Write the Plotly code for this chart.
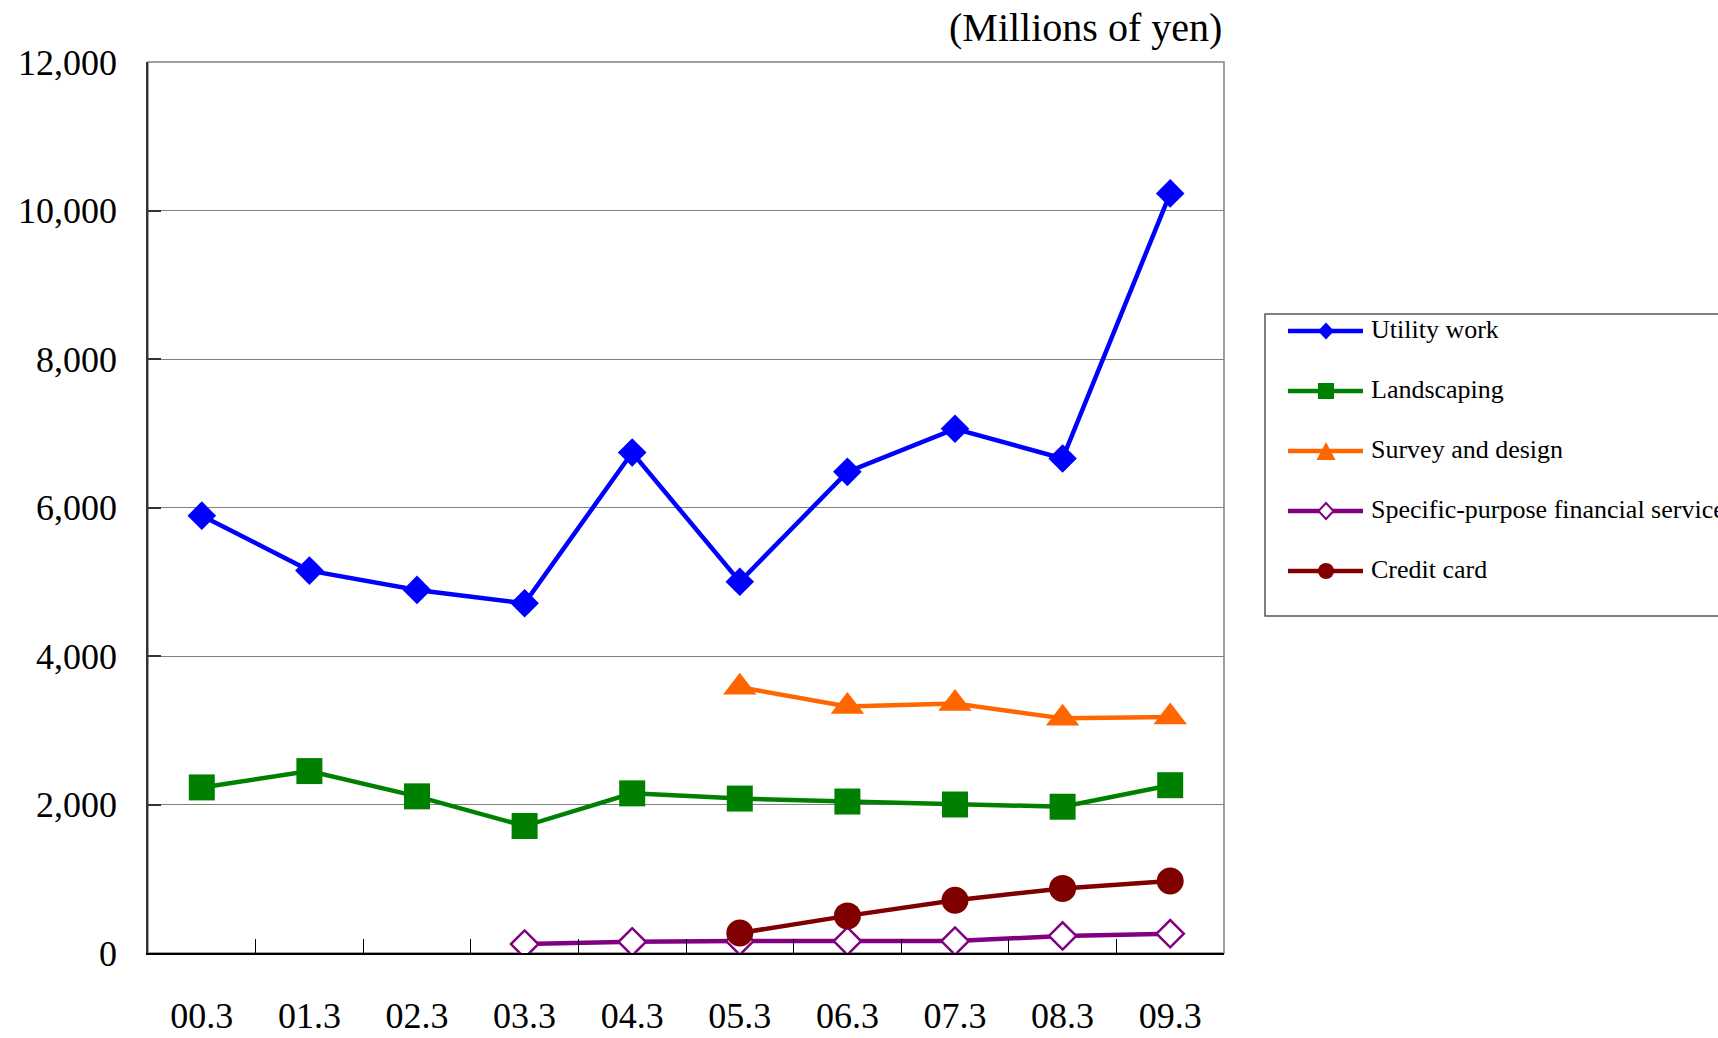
import plotly.graph_objects as go

# Fiscal year-end labels (March closing)
periods = ["00.3", "01.3", "02.3", "03.3", "04.3", "05.3", "06.3", "07.3", "08.3", "09.3"]

# Operating revenue by business segment (millions of yen)
utility_work = [5890, 5150, 4890, 4710, 6740, 5000, 6480, 7060, 6660, 10230]
landscaping = [2230, 2450, 2110, 1710, 2150, 2080, 2040, 2000, 1970, 2260]
survey_periods = periods[5:]
survey_design = [3580, 3320, 3360, 3160, 3180]
finance_periods = periods[3:]
specific_finance = [120, 150, 160, 160, 160, 230, 260]
card_periods = periods[5:]
credit_card = [270, 500, 710, 870, 970]

series_names = ["Utility work", "Landscaping", "Survey and design",
                "Specific-purpose financial services", "Credit card"]
series_colors = ["#0000FF", "#008000", "#FF6600", "#800080", "#800000"]

y_ticks = [0, 2000, 4000, 6000, 8000, 10000, 12000]

# Page and plot-area geometry in pixels
W, H = 1718, 1038
L, R, T, B = 148, 1224, 62, 953
FONT = "Liberation Serif"


def px_x(x):
    return (x - L) / (R - L)


def px_y(y):
    return (B - y) / (B - T)


fig = go.Figure()

line_w = 4.5
fig.add_trace(go.Scatter(
    x=periods, y=utility_work, name=series_names[0], mode="lines+markers",
    line=dict(color=series_colors[0], width=line_w),
    marker=dict(symbol="diamond", size=22, color=series_colors[0]),
))
fig.add_trace(go.Scatter(
    x=periods, y=landscaping, name=series_names[1], mode="lines+markers",
    line=dict(color=series_colors[1], width=line_w),
    marker=dict(symbol="square", size=26, color=series_colors[1]),
))
fig.add_trace(go.Scatter(
    x=survey_periods, y=survey_design, name=series_names[2], mode="lines+markers",
    line=dict(color=series_colors[2], width=line_w),
    marker=dict(symbol="triangle-up", size=29, color=series_colors[2]),
))
fig.add_trace(go.Scatter(
    x=finance_periods, y=specific_finance, name=series_names[3], mode="lines+markers",
    line=dict(color=series_colors[3], width=line_w),
    marker=dict(symbol="diamond", size=21, color="white",
                line=dict(color=series_colors[3], width=2.5)),
))
fig.add_trace(go.Scatter(
    x=card_periods, y=credit_card, name=series_names[4], mode="lines+markers",
    line=dict(color=series_colors[4], width=line_w),
    marker=dict(symbol="circle", size=27, color=series_colors[4]),
))

shapes = []
# Plot-area frame (top and right edges in grey)
shapes.append(dict(type="rect", xref="paper", yref="paper", x0=0, x1=1, y0=0, y1=1,
                   line=dict(color="#808080", width=1.5), layer="below"))

# Legend box and entries
box_left, box_top, box_bottom = 1265, 314, 616
shapes.append(dict(type="rect", xref="paper", yref="paper",
                   x0=px_x(box_left), x1=px_x(W + 60), y0=px_y(box_bottom), y1=px_y(box_top),
                   line=dict(color="#555555", width=1.5), fillcolor="white"))
row_y = [331, 391, 451, 511, 571]
seg_x0, seg_x1, mark_x = 1288, 1363, 1326
annotations = []
for i, (name, color) in enumerate(zip(series_names, series_colors)):
    yy = px_y(row_y[i])
    shapes.append(dict(type="line", xref="paper", yref="paper",
                       x0=px_x(seg_x0), x1=px_x(seg_x1), y0=yy, y1=yy,
                       line=dict(color=color, width=4.5)))
    common = dict(xref="paper", yref="paper", xsizemode="pixel", ysizemode="pixel",
                  xanchor=px_x(mark_x), yanchor=yy)
    if i == 0:
        shapes.append(dict(type="path", path="M-8,0 L0,8.5 L8,0 L0,-8.5 Z",
                           fillcolor=color, line=dict(width=0), **common))
    elif i == 1:
        shapes.append(dict(type="path", path="M-8,-8 L8,-8 L8,8 L-8,8 Z",
                           fillcolor=color, line=dict(width=0), **common))
    elif i == 2:
        shapes.append(dict(type="path", path="M-9.5,-9 L9.5,-9 L0,9 Z",
                           fillcolor=color, line=dict(width=0), **common))
    elif i == 3:
        shapes.append(dict(type="path", path="M-7.5,0 L0,8 L7.5,0 L0,-8 Z",
                           fillcolor="white", line=dict(color=color, width=2), **common))
    else:
        shapes.append(dict(type="circle", x0=-8, x1=8, y0=-8, y1=8,
                           fillcolor=color, line=dict(width=0), **common))
    annotations.append(dict(xref="paper", yref="paper", x=px_x(1369), y=px_y(row_y[i] - 2),
                            xanchor="left", yanchor="middle", showarrow=False, text=name,
                            font=dict(family=FONT, size=26, color="black")))

# Unit caption above the plot area
annotations.append(dict(xref="paper", yref="paper", x=1, y=px_y(28), xanchor="right",
                        yanchor="middle", showarrow=False, text="(Millions of yen)",
                        font=dict(family=FONT, size=40, color="black")))

fig.update_layout(
    width=W, height=H,
    margin=dict(l=L, r=W - R, t=T, b=H - B, autoexpand=False),
    paper_bgcolor="white", plot_bgcolor="white",
    showlegend=False,
    shapes=shapes, annotations=annotations,
    font=dict(family=FONT, color="black"),
)
fig.update_xaxes(
    type="category", categoryorder="array", categoryarray=periods,
    range=[-0.5, len(periods) - 0.5],
    tickson="boundaries", ticks="inside", ticklen=14, tickcolor="#000000", tickwidth=1,
    showline=True, linecolor="#000000", linewidth=2, showgrid=False,
    tickfont=dict(family=FONT, size=36, color="black"), ticklabelstandoff=30,
)
fig.update_yaxes(
    range=[0, 12000], tickvals=y_ticks, tickformat=",",
    ticks="inside", ticklen=13, tickcolor="#333333", tickwidth=1.5,
    showline=True, linecolor="#333333", linewidth=1.5,
    showgrid=True, gridcolor="#808080", gridwidth=1.3, zeroline=False,
    tickfont=dict(family=FONT, size=36, color="black"), ticklabelstandoff=22,
)

fig.write_html("out.html")
